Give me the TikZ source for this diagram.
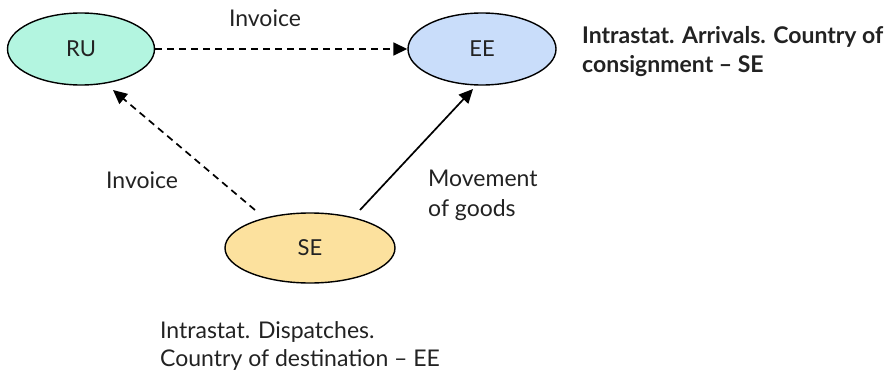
\documentclass[tikz,border=0pt]{standalone}
\usepackage{fontspec}
\setmainfont{Lato}
\usetikzlibrary{arrows.meta,shapes.geometric}
\definecolor{ruc}{RGB}{179,245,224}
\definecolor{eec}{RGB}{201,221,250}
\definecolor{sec}{RGB}{252,225,158}
\definecolor{txt}{RGB}{34,34,34}
\begin{document}
\begin{tikzpicture}[x=1pt,y=-1pt,
  country/.style={ellipse,draw=black,line width=1.4pt,inner sep=0pt,text=txt,font=\fontsize{22}{26}\selectfont},
  lbl/.style={text=txt,font=\fontsize{23}{29}\selectfont,inner sep=0pt},
  conn/.style={line width=1.7pt,-{Triangle[length=14pt,width=13pt]}},
  dashedconn/.style={conn,dash pattern=on 7pt off 5pt}]
\useasboundingbox (0,0) rectangle (894,380);
\node[country,fill=ruc,minimum width=147pt,minimum height=72pt] (ru) at (81,49) {RU};
\node[country,fill=eec,minimum width=148pt,minimum height=72pt] (ee) at (482,49) {EE};
\node[country,fill=sec,minimum width=170pt,minimum height=70pt] (se) at (310,248) {SE};
\coordinate (seL) at (255,210);
\coordinate (seR) at (360,210);
\coordinate (ruB) at (113,90);
\coordinate (eeB) at (473,89);
\draw[dashedconn] (ru.east) -- (ee.west);
\draw[dashedconn] (seL) -- (ruB);
\draw[conn] (seR) -- (eeB);
\node[lbl,anchor=center] (l1) at (265,18) {Invoice};
\node[lbl,anchor=west] (l2) at (106,180) {Invoice};
\node[lbl,anchor=west,align=left,font=\fontsize{23}{30}\selectfont] (l3) at (428,195) {Movement\\of goods};
\node[lbl,anchor=west,align=left,font=\fontsize{23}{29}\selectfont\bfseries] (l4) at (582,52) {Intrastat. Arrivals. Country of\\consignment -- SE};
\node[lbl,anchor=west,align=left,font=\fontsize{23}{28}\selectfont] (l5) at (160,346) {Intrastat. Dispatches.\\Country of destination -- EE};
\end{tikzpicture}
\end{document}
